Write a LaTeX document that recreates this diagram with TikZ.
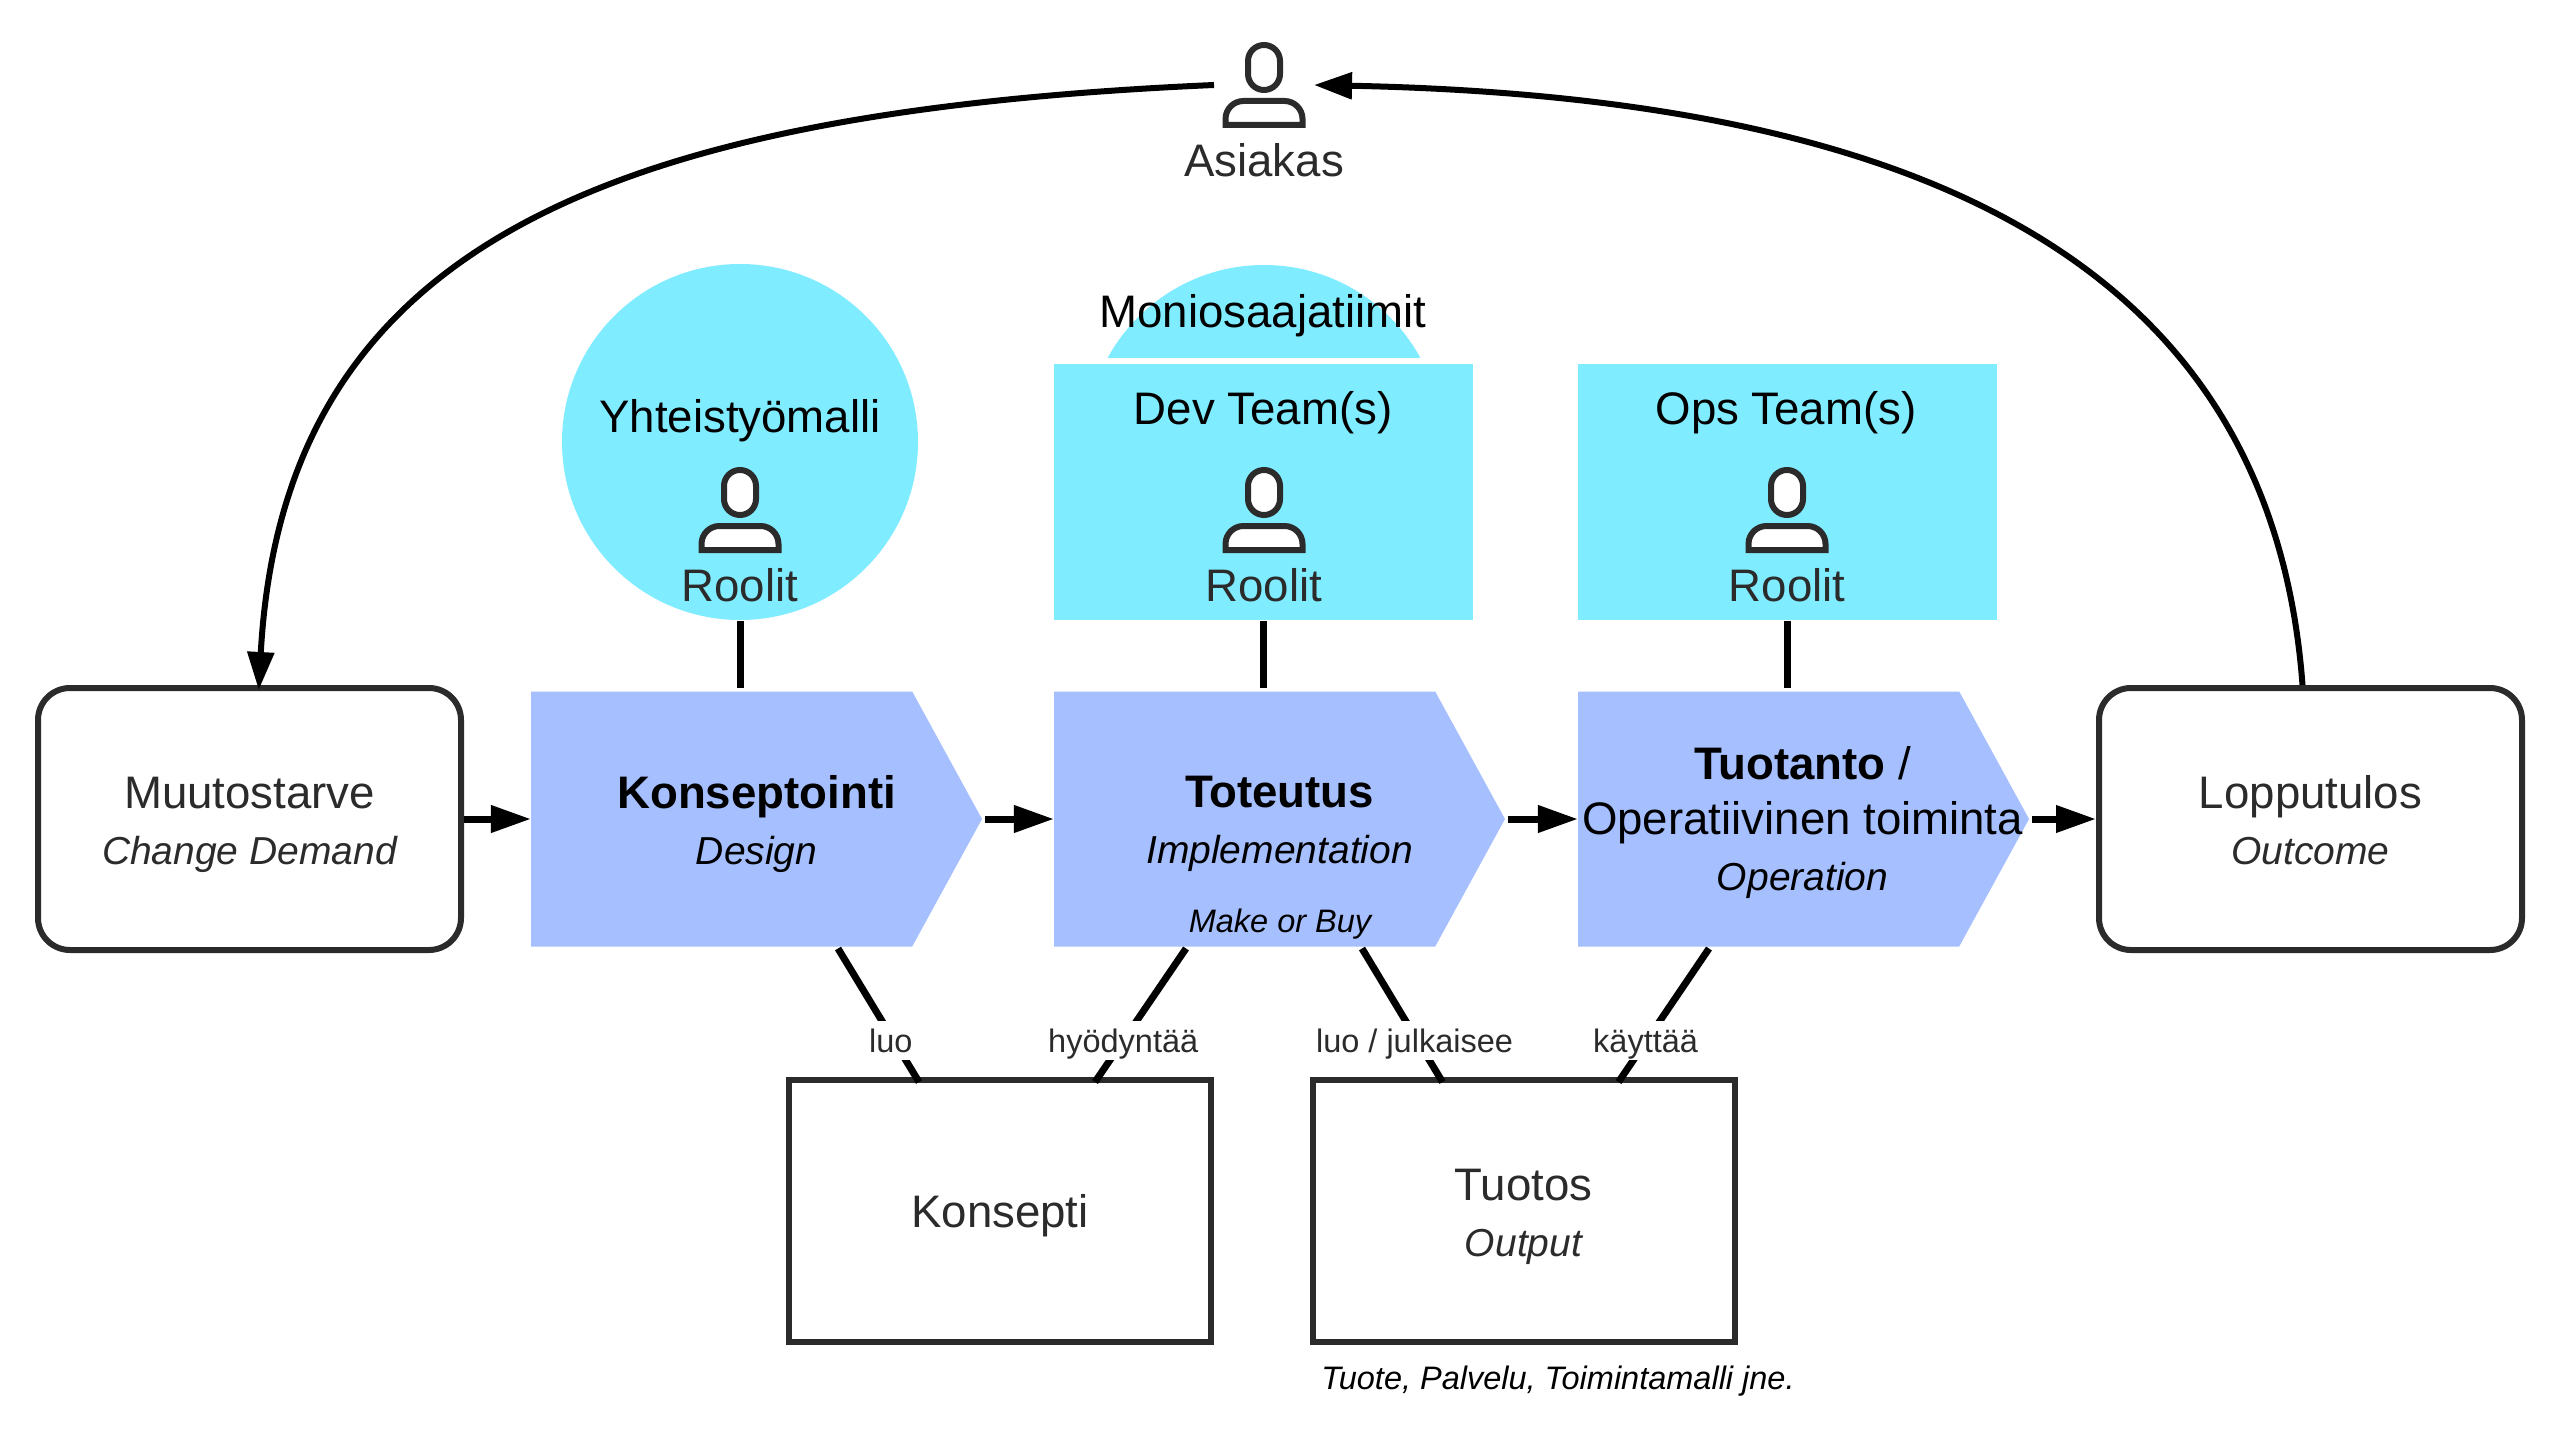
\documentclass[tikz,border=0pt]{standalone}
\usepackage{fontspec}
\setmainfont{Liberation Sans}
\usepackage{xcolor}
\usetikzlibrary{positioning, arrows.meta, shapes.symbols, calc}
\definecolor{teamcyan}{HTML}{80ECFF}
\definecolor{phaseblue}{HTML}{A6BFFF}
\definecolor{inkgray}{HTML}{2B2B2B}
\newcommand{\subtext}[1]{{\fontsize{39}{56}\selectfont\itshape #1}}
\newcommand{\lift}{\rule{0pt}{43pt}}

\begin{document}
\begin{tikzpicture}[
    x=1pt, y=-1pt,
    endbox/.style={draw=inkgray, line width=6pt, rounded corners=32pt, minimum width=423pt, minimum height=262pt, align=center, text=inkgray, font=\fontsize{45.6}{56}\selectfont},
    itembox/.style={draw=inkgray, line width=6pt, minimum width=422pt, minimum height=262pt, align=center, text=inkgray, font=\fontsize{45.6}{56}\selectfont},
    phase/.style={signal, signal to=east, signal pointer angle=122.6, fill=phaseblue, inner sep=0pt, outer sep=0pt, minimum width=451pt, minimum height=255pt},
    phasetext/.style={align=center, font=\fontsize{45.6}{56}\selectfont},
    teambox/.style={fill=teamcyan, preaction={draw=white, line width=12pt}, inner sep=0pt, outer sep=0pt, minimum width=419pt, minimum height=256pt},
    teamdisc/.style={circle, fill=teamcyan, inner sep=0pt, outer sep=0pt, minimum size=356pt},
    heading/.style={font=\fontsize{45.6}{56}\selectfont},
    role/.style={text=inkgray, font=\fontsize{45.6}{56}\selectfont},
    iconspot/.style={inner sep=0pt, outer sep=0pt, minimum width=100pt, minimum height=90pt},
    note/.style={font=\fontsize{32.5}{40}\selectfont\itshape},
    linklabel/.style={fill=white, inner xsep=1pt, inner ysep=1pt, text height=30pt, text depth=7pt, text=inkgray, font=\fontsize{32.5}{40}\selectfont},
    arrow/.style={-{Triangle[length=40pt,width=26pt]}, line width=7pt},
    curved/.style={-{Triangle[length=38pt,width=26pt]}, line width=6pt},
    link/.style={line width=7pt},
    person/.pic={
        \draw[draw=inkgray, fill=white, line width=6pt, rounded corners=16pt] (-16,-40) rectangle (16,5);
        \draw[draw=inkgray, fill=white, line width=6pt] (-38.5,40) [rounded corners=18pt] -- (-38.5,16) -- (38.5,16) [sharp corners] -- (38.5,40) -- cycle;
    }
]
\useasboundingbox (0,0) rectangle (2560,1439);

% Nodes
\node[iconspot] (asiakasicon) at (1264,85) {};
\pic at (asiakasicon) {person};
\node[role] (asiakas) at (1264,160) {Asiakas};

\node[endbox] (muutos) at (249.5,819) {\lift Muutostarve\\\subtext{Change Demand}};
\node[phase, right=67pt of muutos] (konseptointi) {};
\node[phase, right=72pt of konseptointi] (toteutus) {};
\node[phase, right=73pt of toteutus] (tuotanto) {};
\node[endbox, right=67pt of tuotanto] (lopputulos) {\lift Lopputulos\\\rule[-9pt]{0pt}{9pt}\subtext{Outcome}};

\node[phasetext] (konseptointitext) at ($(konseptointi)+(35,5)$) {\textbf{Konseptointi}\\\subtext{Design}};
\node[phasetext] (toteutustext) at ($(toteutus)+(35,5)$) {\textbf{Toteutus}\\\subtext{Implementation}};
\node[phasetext] (tuotantotext) at ($(tuotanto)+(34,4)$) {\textbf{Tuotanto} /\\[-1pt]Operatiivinen toiminta\\\subtext{Operation}};
\node[note] (makebuy) at (1280,924) {Make or Buy};

\node[teamdisc] (yhteistyo) at (740,442) {};
\node[heading] (yhteistyotext) at (740,421) {Yhteistyömalli};
\node[iconspot] (yhteistyoicon) at (740,510) {};
\pic at (yhteistyoicon) {person};
\node[role] (yhteistyorole) at (740,585) {Roolit};

\node[teamdisc] (moniosaajat) at (1264,443) {};
\node[teambox] (devteam) at (1263.5,492) {};
\node[heading] (moniosaajattext) at (1263,316) {Moniosaajatiimit};
\node[heading] (devtext) at (1263,413) {Dev Team(s)};
\node[iconspot] (devicon) at (1264,510) {};
\pic at (devicon) {person};
\node[role] (devrole) at (1264,585) {Roolit};

\node[teambox] (opsteam) at (1787.5,492) {};
\node[heading] (opstext) at (1786,413) {Ops Team(s)};
\node[iconspot] (opsicon) at (1787,510) {};
\pic at (opsicon) {person};
\node[role] (opsrole) at (1787,585) {Roolit};

\node[itembox] (konsepti) at (1000,1211) {\lift Konsepti};
\node[itembox] (tuotos) at (1523.5,1211) {\lift Tuotos\\\subtext{Output}};
\node[note] (tuotosnote) at (1558,1381) {Tuote, Palvelu, Toimintamalli jne.};

% Arrows
\draw[curved, shorten >=-5pt] (asiakasicon.west) .. controls (600,112) and (283,249) .. ([xshift=9.5pt]muutos.north);
\draw[curved] ([xshift=-8pt]lopputulos.north) .. controls (2270,250) and (1900,97) .. (asiakasicon.east);
\draw[arrow] (muutos) -- (konseptointi);
\draw[arrow, shorten <=3pt] (konseptointi) -- (toteutus);
\draw[arrow, shorten <=3pt] (toteutus) -- (tuotanto);
\draw[arrow, shorten <=3pt] (tuotanto) -- (lopputulos);
\draw[link, shorten >=4pt, shorten <=1pt] (yhteistyo.south) -- (yhteistyo.south |- konseptointi.north);
\draw[link, shorten >=4pt, shorten <=1pt] (devteam.south) -- (devteam.south |- toteutus.north);
\draw[link, shorten >=4pt, shorten <=1pt] (opsteam.south) -- (opsteam.south |- tuotanto.north);
\draw[link] ($(konseptointi.south west)+(307,2)$) -- node[linklabel, pos=.69, xshift=-3pt] (luotext) {luo} ($(konsepti.north west)+(133,5)$);
\draw[link] ($(toteutus.south west)+(132,2)$) -- node[linklabel, pos=.69] (hyodyntaatext) {hyödyntää} ($(konsepti.north west)+(309,5)$);
\draw[link] ($(toteutus.south west)+(308,2)$) -- node[linklabel, pos=.69, xshift=-3pt] (julkaiseetext) {luo / julkaisee} ($(tuotos.north west)+(133,5)$);
\draw[link] ($(tuotanto.south west)+(131,2)$) -- node[linklabel, pos=.69, xshift=-1pt] (kayttaatext) {käyttää} ($(tuotos.north west)+(309,5)$);

\end{tikzpicture}
\end{document}
